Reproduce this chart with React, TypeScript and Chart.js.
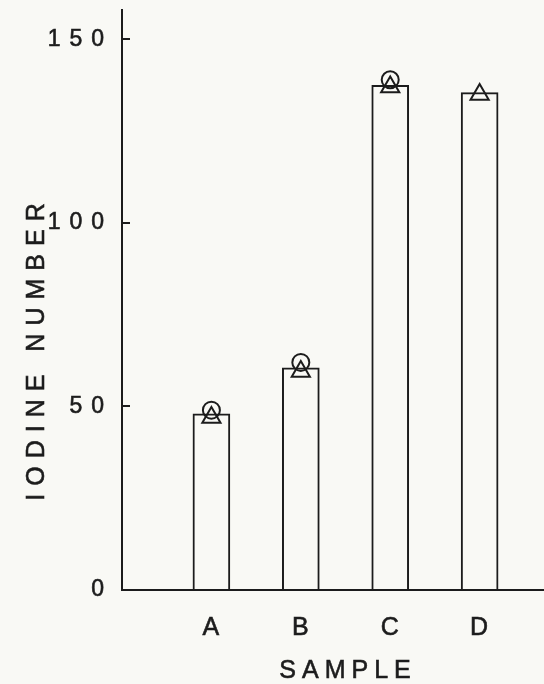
import React, { useEffect, useRef } from "react";
import { Chart, registerables } from "chart.js";

Chart.register(...registerables);

// ---- data ----
const categories = ["A", "B", "C", "D"];
const categoryPositions = [1, 2, 3, 4];
const barValues = [48, 60.5, 137.5, 135.5];
const circleValues: (number | null)[] = [49, 62, 139, null];
const triangleValues = [47, 59.5, 137, 135];
const yTickValues = [0, 50, 100, 150];
const xTitle = "SAMPLE";
const yTitle = "IODINE NUMBER";

const INK = "#1c1c1c";
const BG = "#f9f9f5";
const FONT = "'Liberation Sans', Arial, sans-serif";

const paperPlugin = {
  id: "paperText",
  beforeDraw(chart: any) {
    const ctx = chart.ctx;
    ctx.save();
    ctx.fillStyle = BG;
    ctx.fillRect(0, 0, chart.width, chart.height);
    ctx.restore();
    ctx.letterSpacing = "9px";
  },
  afterDraw(chart: any) {
    const { ctx, chartArea } = chart;
    ctx.save();
    ctx.fillStyle = INK;
    ctx.strokeStyle = INK;
    ctx.lineWidth = 0.6;
    ctx.textAlign = "center";
    ctx.textBaseline = "middle";
    ctx.font = `25px ${FONT}`;
    ctx.letterSpacing = "6px";
    const tx = chartArea.left + 226;
    const ty = chartArea.bottom + 81;
    ctx.fillText(xTitle, tx, ty);
    ctx.strokeText(xTitle, tx, ty);
    ctx.translate(37, chartArea.bottom - 238);
    ctx.rotate(-Math.PI / 2);
    ctx.letterSpacing = "8px";
    ctx.fillText(yTitle, 4, 0);
    ctx.strokeText(yTitle, 4, 0);
    ctx.restore();
    ctx.letterSpacing = "0px";
  },
};

export default function App() {
  const ref = useRef<HTMLCanvasElement | null>(null);

  useEffect(() => {
    if (!ref.current) return;
    const bars = categoryPositions.map((x, i) => ({ x, y: barValues[i] }));
    const circles = categoryPositions
      .map((x, i) => ({ x, y: circleValues[i] }))
      .filter((p) => p.y !== null);
    const triangles = categoryPositions.map((x, i) => ({ x, y: triangleValues[i] }));

    const chart = new Chart(ref.current, {
      type: "bar",
      data: {
        datasets: [
          {
            type: "line",
            data: circles as any,
            showLine: false,
            pointStyle: "circle",
            pointRadius: 8.5,
            pointBorderWidth: 2,
            pointBorderColor: INK,
            pointBackgroundColor: "rgba(0,0,0,0)",
            order: 0,
          },
          {
            type: "line",
            data: triangles as any,
            showLine: false,
            pointStyle: "triangle",
            pointRadius: 10.5,
            pointBorderWidth: 2,
            pointBorderColor: INK,
            pointBackgroundColor: "rgba(0,0,0,0)",
            order: 1,
          },
          {
            type: "bar",
            data: bars as any,
            backgroundColor: BG,
            borderColor: INK,
            borderWidth: 2,
            borderSkipped: "bottom",
            barThickness: 37,
            order: 2,
          },
        ] as any,
      },
      options: {
        animation: false,
        responsive: false,
        devicePixelRatio: 1,
        layout: { autoPadding: false, padding: { top: 10, left: 0, right: 0, bottom: 0 } },
        plugins: {
          legend: { display: false },
          tooltip: { enabled: false },
        },
        scales: {
          x: {
            type: "linear",
            min: 0,
            max: 4.72,
            offset: false,
            bounds: "data",
            grid: { display: false, offset: false },
            border: { display: true, color: INK, width: 2 },
            afterBuildTicks: (s: any) => {
              s.ticks = categoryPositions.map((v) => ({ value: v }));
            },
            afterFit: (s: any) => {
              s.height = 94;
              s.paddingLeft = 0;
              s.paddingRight = 0;
            },
            ticks: {
              padding: 15,
              color: INK,
              textStrokeColor: INK,
              textStrokeWidth: 0.6,
              font: { family: FONT, size: 25 },
              maxRotation: 0,
              autoSkip: false,
              labelOffset: 4,
              callback: (_v: any, i: number) => categories[i],
            },
          },
          y: {
            type: "linear",
            min: 0,
            max: 158,
            grid: {
              display: true,
              drawOnChartArea: false,
              drawTicks: true,
              tickLength: -8,
              color: INK,
              lineWidth: 2,
            },
            border: { display: true, color: INK, width: 2 },
            afterBuildTicks: (s: any) => {
              s.ticks = yTickValues.map((v) => ({ value: v }));
            },
            afterFit: (s: any) => {
              s.width = 122;
              s.paddingTop = 0;
              s.paddingBottom = 0;
            },
            ticks: {
              padding: 17,
              color: INK,
              textStrokeColor: INK,
              textStrokeWidth: 0.6,
              font: { family: FONT, size: 23 },
              autoSkip: false,
            },
          },
        },
      } as any,
      plugins: [paperPlugin],
    });
    return () => chart.destroy();
  }, []);

  return (
    <div style={{ position: "fixed", left: 0, top: 0, width: 544, height: 684, background: BG }}>
      <canvas ref={ref} width={544} height={684} style={{ display: "block" }} />
    </div>
  );
}
